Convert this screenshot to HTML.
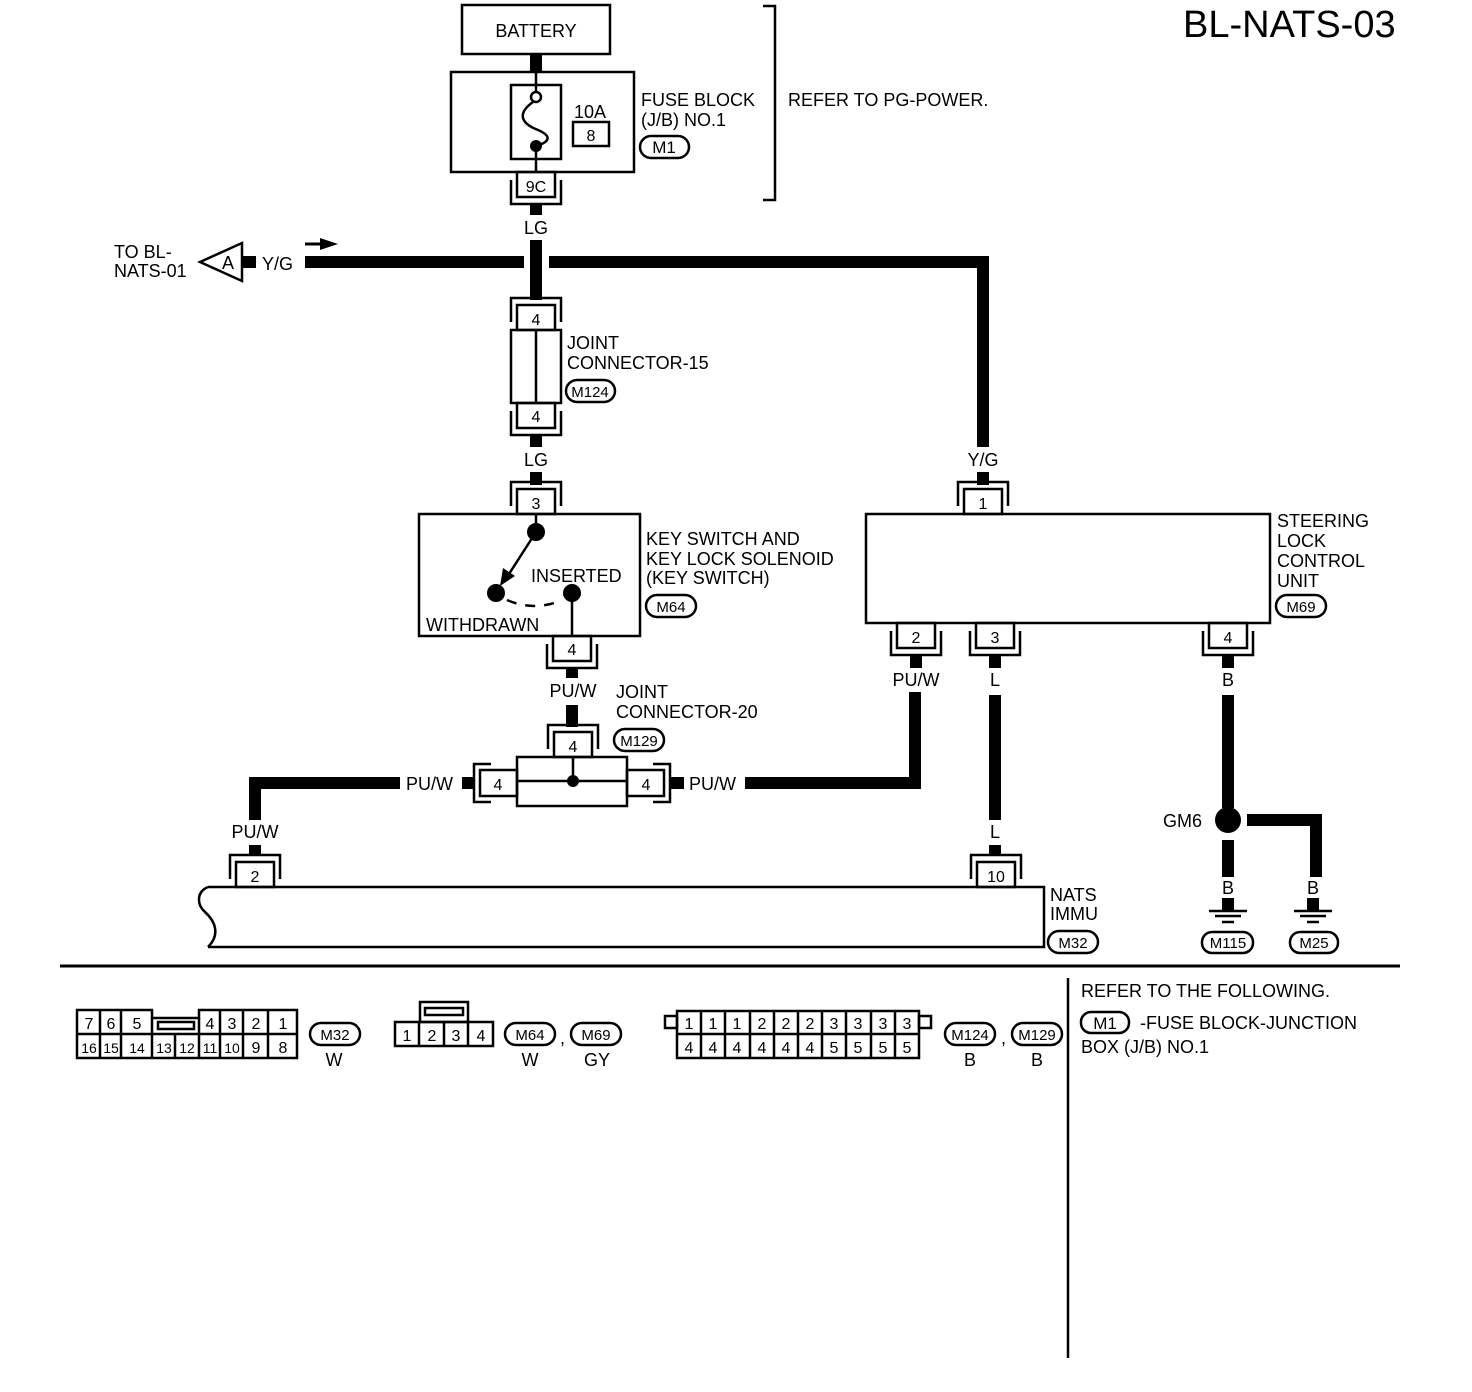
<!DOCTYPE html>
<html><head><meta charset="utf-8"><style>
html,body{margin:0;padding:0;background:#fff}
svg{display:block}
text{font-family:"Liberation Sans",Arial,sans-serif;fill:#000}
.t{font-size:18px}
.p{font-size:16px;text-anchor:middle}
.o{font-size:15px;text-anchor:middle}
.w{stroke:#000;stroke-width:12;fill:none}
.l{stroke:#000;stroke-width:2.5;fill:none}
</style></head><body>
<svg width="1472" height="1392" viewBox="0 0 1472 1392" xmlns="http://www.w3.org/2000/svg">
<defs>
<g id="cd">
<path class="l" d="M-25,-8 V-32 H25 V-8"/>
<rect class="l" x="-19" y="-25" width="38" height="25" fill="#fff"/>
</g>
<g id="cu">
<path class="l" d="M-25,8 V32 H25 V8"/>
<rect class="l" x="-19" y="0" width="38" height="25" fill="#fff"/>
</g>
</defs>

<text x="1183" y="37" style="font-size:38px">BL-NATS-03</text>

<rect class="l" x="462" y="5" width="148" height="49"/>
<text class="t" x="536" y="37" text-anchor="middle">BATTERY</text>
<line class="w" x1="536" y1="54" x2="536" y2="72"/>

<rect class="l" x="451" y="72" width="183" height="100"/>
<rect class="l" x="511" y="85" width="50" height="74"/>
<line class="l" x1="536" y1="72" x2="536" y2="92"/>
<circle class="l" cx="536" cy="97" r="5" fill="#fff"/>
<path class="l" d="M533,102 C516,114 522,124 538,130 C552,136 550,142 536,146"/>
<circle cx="536" cy="146" r="6"/>
<line class="l" x1="536" y1="146" x2="536" y2="172"/>
<text class="t" x="574" y="118">10A</text>
<rect class="l" x="573" y="122" width="36" height="24"/>
<text class="p" x="591" y="141">8</text>
<text class="t" x="641" y="106">FUSE BLOCK</text>
<text class="t" x="641" y="126">(J/B) NO.1</text>
<rect class="l" x="640" y="136" width="49" height="22" rx="11"/>
<text x="664" y="153" style="font-size:17px" text-anchor="middle">M1</text>
<path class="l" d="M763,6 H775 V200 H763"/>
<text class="t" x="788" y="106">REFER TO PG-POWER.</text>

<use href="#cu" x="536" y="172"/>
<text class="p" x="536" y="192">9C</text>
<line class="w" x1="536" y1="204" x2="536" y2="215"/>
<text class="t" x="536" y="234" text-anchor="middle">LG</text>
<line class="w" x1="536" y1="240" x2="536" y2="300"/>

<line class="w" x1="305" y1="262" x2="524" y2="262"/>
<path class="w" d="M549,262 H983 V447"/>
<polygon class="l" points="200,262 242,243 242,281" fill="#fff"/>
<text class="t" x="222" y="269">A</text>
<line class="w" x1="242" y1="262" x2="256" y2="262"/>
<text class="t" x="262" y="270">Y/G</text>
<line x1="305" y1="244" x2="322" y2="244" stroke="#000" stroke-width="3"/>
<polygon points="320,238 338,244 320,250"/>
<text class="t" x="114" y="258">TO BL-</text>
<text class="t" x="114" y="277">NATS-01</text>

<use href="#cd" x="536" y="330"/>
<text class="p" x="536" y="325">4</text>
<rect class="l" x="511" y="330" width="50" height="73"/>
<line class="l" x1="536" y1="330" x2="536" y2="403"/>
<use href="#cu" x="536" y="403"/>
<text class="p" x="536" y="422">4</text>
<text class="t" x="567" y="349">JOINT</text>
<text class="t" x="567" y="369">CONNECTOR-15</text>
<rect class="l" x="566" y="380" width="49" height="22" rx="11"/>
<text class="o" x="590" y="397">M124</text>
<line class="w" x1="536" y1="435" x2="536" y2="447"/>
<text class="t" x="536" y="466" text-anchor="middle">LG</text>
<line class="w" x1="536" y1="472" x2="536" y2="485"/>

<use href="#cd" x="536" y="514"/>
<text class="p" x="536" y="509">3</text>
<rect class="l" x="419" y="514" width="221" height="122"/>
<line class="l" x1="536" y1="514" x2="536" y2="532"/>
<circle cx="536" cy="532" r="9"/>
<line x1="536" y1="532" x2="509" y2="574" stroke="#000" stroke-width="2.5"/>
<polygon points="500,586 503,568 515,576"/>
<circle cx="496" cy="593" r="9"/>
<circle cx="572" cy="593" r="9"/>
<path d="M507,600 Q535,612 562,600" stroke="#000" stroke-width="2.5" fill="none" stroke-dasharray="10,9"/>
<line class="l" x1="572" y1="593" x2="572" y2="636"/>
<text class="t" x="531" y="582">INSERTED</text>
<text class="t" x="426" y="631">WITHDRAWN</text>
<text class="t" x="646" y="545">KEY SWITCH AND</text>
<text class="t" x="646" y="565">KEY LOCK SOLENOID</text>
<text class="t" x="646" y="584">(KEY SWITCH)</text>
<rect class="l" x="646" y="595" width="50" height="22" rx="11"/>
<text class="o" x="671" y="612">M64</text>
<use href="#cu" x="572" y="636"/>
<text class="p" x="572" y="655">4</text>
<line class="w" x1="572" y1="668" x2="572" y2="678"/>
<text class="t" x="573" y="697" text-anchor="middle">PU/W</text>
<line class="w" x1="572" y1="705" x2="572" y2="727"/>

<use href="#cd" x="573" y="757"/>
<text class="p" x="573" y="752">4</text>
<rect class="l" x="517" y="757" width="110" height="49"/>
<line class="l" x1="517" y1="781" x2="627" y2="781"/>
<line class="l" x1="573" y1="757" x2="573" y2="781"/>
<circle cx="573" cy="781" r="6"/>
<!-- left horizontal connector -->
<path class="l" d="M491,764 H474 V802 H491"/>
<rect class="l" x="480" y="770" width="37" height="26" fill="#fff"/>
<text class="p" x="498" y="790">4</text>
<!-- right horizontal connector -->
<path class="l" d="M653,764 H670 V802 H653"/>
<rect class="l" x="627" y="770" width="37" height="26" fill="#fff"/>
<text class="p" x="646" y="790">4</text>
<text class="t" x="616" y="698">JOINT</text>
<text class="t" x="616" y="718">CONNECTOR-20</text>
<rect class="l" x="614" y="729" width="50" height="22" rx="11"/>
<text class="o" x="639" y="746">M129</text>
<line class="w" x1="474" y1="783" x2="462" y2="783"/>
<text class="t" x="406" y="790">PU/W</text>
<path class="w" d="M400,783 H255 V820"/>
<text class="t" x="255" y="838" text-anchor="middle">PU/W</text>
<line class="w" x1="255" y1="845" x2="255" y2="856"/>
<line class="w" x1="670" y1="783" x2="684" y2="783"/>
<text class="t" x="689" y="790">PU/W</text>
<path class="w" d="M745,783 H915 V692"/>

<use href="#cd" x="983" y="514"/>
<text class="p" x="983" y="509">1</text>
<text class="t" x="983" y="466" text-anchor="middle">Y/G</text>
<line class="w" x1="983" y1="472" x2="983" y2="485"/>
<rect class="l" x="866" y="514" width="404" height="109"/>
<text class="t" x="1277" y="527">STEERING</text>
<text class="t" x="1277" y="547">LOCK</text>
<text class="t" x="1277" y="567">CONTROL</text>
<text class="t" x="1277" y="587">UNIT</text>
<rect class="l" x="1276" y="595" width="50" height="22" rx="11"/>
<text class="o" x="1301" y="612">M69</text>
<use href="#cu" x="916" y="623"/><text class="p" x="916" y="643">2</text>
<use href="#cu" x="995" y="623"/><text class="p" x="995" y="643">3</text>
<use href="#cu" x="1228" y="623"/><text class="p" x="1228" y="643">4</text>
<line class="w" x1="916" y1="655" x2="916" y2="668"/>
<text class="t" x="916" y="686" text-anchor="middle">PU/W</text>
<line class="w" x1="995" y1="655" x2="995" y2="668"/>
<text class="t" x="995" y="686" text-anchor="middle">L</text>
<line class="w" x1="995" y1="695" x2="995" y2="820"/>
<text class="t" x="995" y="838" text-anchor="middle">L</text>
<line class="w" x1="995" y1="845" x2="995" y2="856"/>
<line class="w" x1="1228" y1="655" x2="1228" y2="668"/>
<text class="t" x="1228" y="686" text-anchor="middle">B</text>
<line class="w" x1="1228" y1="695" x2="1228" y2="808"/>
<circle cx="1228" cy="820" r="13"/>
<path class="w" d="M1247,820 H1316 V877"/>
<line class="w" x1="1228" y1="840" x2="1228" y2="877"/>
<text class="t" x="1163" y="827">GM6</text>
<text class="t" x="1228" y="894" text-anchor="middle">B</text>
<text class="t" x="1313" y="894" text-anchor="middle">B</text>
<line class="w" x1="1228" y1="898" x2="1228" y2="910"/>
<line class="w" x1="1313" y1="898" x2="1313" y2="910"/>
<g stroke="#000" stroke-width="2.5">
<line x1="1209" y1="911" x2="1247" y2="911"/><line x1="1215" y1="916" x2="1241" y2="916"/><line x1="1222" y1="922" x2="1234" y2="922"/>
<line x1="1294" y1="911" x2="1332" y2="911"/><line x1="1300" y1="916" x2="1326" y2="916"/><line x1="1307" y1="922" x2="1319" y2="922"/>
</g>
<rect class="l" x="1202" y="932" width="51" height="21" rx="10"/>
<text class="o" x="1228" y="948">M115</text>
<rect class="l" x="1290" y="932" width="48" height="21" rx="10"/>
<text class="o" x="1314" y="948">M25</text>

<use href="#cd" x="255" y="887"/><text class="p" x="255" y="882">2</text>
<use href="#cd" x="996" y="887"/><text class="p" x="996" y="882">10</text>
<path class="l" d="M208,887 H1044 V947 H208"/>
<path class="l" d="M208,887 C196,892 197,905 205,912 C216,922 220,935 208,947"/>
<text class="t" x="1050" y="901">NATS</text>
<text class="t" x="1050" y="920">IMMU</text>
<rect class="l" x="1048" y="931" width="50" height="22" rx="11"/>
<text class="o" x="1073" y="948">M32</text>

<line x1="60" y1="966" x2="1400" y2="966" stroke="#000" stroke-width="3"/>
<line x1="1068" y1="978" x2="1068" y2="1358" stroke="#000" stroke-width="2.5"/>

<path class="l" d="M77,1010 H152 V1018 H199 V1010 H297 V1058 H77 Z"/>
<line class="l" x1="77" y1="1034" x2="297" y2="1034"/>
<path class="l" d="M100,1010V1058 M121,1010V1058 M152,1018V1058 M175,1034V1058 M199,1018V1058 M220,1010V1058 M243,1010V1058 M268,1010V1058"/>
<rect class="l" x="158" y="1022" width="36" height="7"/>
<g class="p">
<text x="89" y="1029">7</text><text x="111" y="1029">6</text><text x="137" y="1029">5</text>
<text x="210" y="1029">4</text><text x="232" y="1029">3</text><text x="256" y="1029">2</text><text x="283" y="1029">1</text>
</g>
<g style="font-size:14px" text-anchor="middle">
<text x="89" y="1053">16</text><text x="111" y="1053">15</text><text x="137" y="1053">14</text><text x="164" y="1053">13</text><text x="187" y="1053">12</text><text x="210" y="1053">11</text><text x="232" y="1053">10</text><text x="256" y="1053" style="font-size:16px">9</text><text x="283" y="1053" style="font-size:16px">8</text>
</g>
<rect class="l" x="310" y="1023" width="50" height="22" rx="11"/>
<text class="o" x="335" y="1040">M32</text>
<text class="t" x="334" y="1066" text-anchor="middle">W</text>

<rect class="l" x="420" y="1002" width="48" height="20"/>
<rect class="l" x="425" y="1008" width="38" height="7"/>
<rect class="l" x="395" y="1022" width="98" height="24"/>
<path class="l" d="M419,1022V1046 M444,1022V1046 M468,1022V1046"/>
<g class="p"><text x="407" y="1041">1</text><text x="432" y="1041">2</text><text x="456" y="1041">3</text><text x="481" y="1041">4</text></g>
<rect class="l" x="505" y="1023" width="50" height="22" rx="11"/>
<text class="o" x="530" y="1040">M64</text>
<text class="t" x="560" y="1044">,</text>
<rect class="l" x="571" y="1023" width="50" height="22" rx="11"/>
<text class="o" x="596" y="1040">M69</text>
<text class="t" x="530" y="1066" text-anchor="middle">W</text>
<text class="t" x="597" y="1066" text-anchor="middle">GY</text>

<rect class="l" x="665" y="1016" width="12" height="12"/>
<rect class="l" x="919" y="1016" width="12" height="12"/>
<rect class="l" x="677" y="1011" width="242" height="47"/>
<line class="l" x1="677" y1="1034" x2="919" y2="1034"/>
<path class="l" d="M701,1011V1058 M725,1011V1058 M750,1011V1058 M774,1011V1058 M798,1011V1058 M822,1011V1058 M846,1011V1058 M871,1011V1058 M895,1011V1058"/>
<g class="p">
<text x="689" y="1029">1</text><text x="713" y="1029">1</text><text x="737" y="1029">1</text><text x="762" y="1029">2</text><text x="786" y="1029">2</text><text x="810" y="1029">2</text><text x="834" y="1029">3</text><text x="858" y="1029">3</text><text x="883" y="1029">3</text><text x="907" y="1029">3</text>
<text x="689" y="1053">4</text><text x="713" y="1053">4</text><text x="737" y="1053">4</text><text x="762" y="1053">4</text><text x="786" y="1053">4</text><text x="810" y="1053">4</text><text x="834" y="1053">5</text><text x="858" y="1053">5</text><text x="883" y="1053">5</text><text x="907" y="1053">5</text>
</g>
<rect class="l" x="945" y="1023" width="50" height="22" rx="11"/>
<text class="o" x="970" y="1040">M124</text>
<text class="t" x="1001" y="1044">,</text>
<rect class="l" x="1012" y="1023" width="50" height="22" rx="11"/>
<text class="o" x="1037" y="1040">M129</text>
<text class="t" x="970" y="1066" text-anchor="middle">B</text>
<text class="t" x="1037" y="1066" text-anchor="middle">B</text>

<text class="t" x="1081" y="997">REFER TO THE FOLLOWING.</text>
<rect class="l" x="1081" y="1012" width="48" height="21" rx="10"/>
<text x="1105" y="1029" style="font-size:17px" text-anchor="middle">M1</text>
<text class="t" x="1140" y="1029">-FUSE BLOCK-JUNCTION</text>
<text class="t" x="1081" y="1053">BOX (J/B) NO.1</text>
</svg>
</body></html>
